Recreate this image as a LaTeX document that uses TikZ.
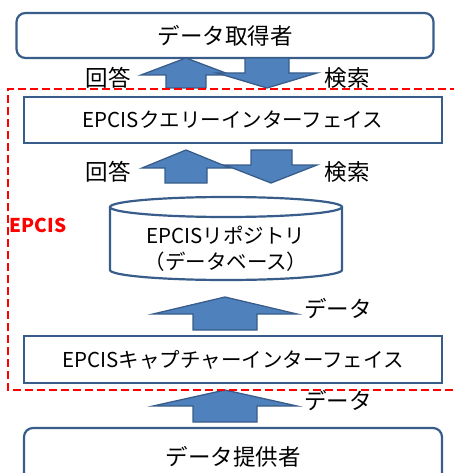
\documentclass[tikz,border=0pt]{standalone}
\usepackage{fontspec}
\setmainfont{Noto Sans CJK JP}
\usetikzlibrary{math}

\definecolor{boxline}{HTML}{385D8A}
\definecolor{arrowfill}{HTML}{4F81BD}
\definecolor{epcisred}{HTML}{FF0000}

\begin{document}
\begin{tikzpicture}[x=1pt, y=-1pt,
    box/.style={draw=boxline, line width=2.2pt, fill=white, minimum width=418pt,
        font=\fontsize{20.5}{26}\selectfont, inner sep=0pt},
    actor/.style={box, rounded corners=9pt, font=\fontsize{22.5}{28}\selectfont},
    blockarrow/.style={fill=arrowfill, draw=boxline, line width=1.3pt, line join=miter},
    label/.style={font=\fontsize{22.5}{28}\selectfont, inner sep=0pt}]

\useasboundingbox (0,0) rectangle (453,473);

% Position settings
\tikzmath{
    \UpX = 186;
    \DataX = 225;
}

% Draws actors and interfaces
\node [actor, minimum width=417pt, minimum height=45pt] (getter) at (225,35.5) {データ取得者};
\node [box, minimum height=46pt] (query) at (233,120) {EPCISクエリーインターフェイス};
\node [box, minimum height=47pt] (capture) at (233,359.5) {EPCISキャプチャーインターフェイス};
\node [actor, minimum height=58pt] (provider) at (233,457) {データ提供者};

% Draws repository
\draw [boxline, line width=2.2pt, fill=white]
    (110,207) -- (110,270) arc [start angle=180, end angle=0, x radius=116, y radius=10]
    -- (342,207);
\draw [boxline, line width=2.2pt] (226,207) ellipse [x radius=116, y radius=10];
\node [label, font=\fontsize{20.5}{26}\selectfont, align=center]
    (repo) at (226,248.5) {EPCISリポジトリ\\（データベース）};

% Draws arrows between getter and query interface
\draw [blockarrow] (\UpX,58) -- (\UpX+45,75) -- (\UpX+20,75) -- (\UpX+20,88)
    -- (\UpX-20,88) -- (\UpX-20,75) -- (\UpX-45,75) -- cycle;
\draw [blockarrow] (267,88) -- (317,73) -- (289,73) -- (289,58)
    -- (245,58) -- (245,73) -- (217,73) -- cycle;

% Draws arrows between query interface and repository
\draw [blockarrow] (\UpX,150) -- (\UpX+44,168) -- (\UpX+21,168) -- (\UpX+21,183)
    -- (\UpX-21,183) -- (\UpX-21,168) -- (\UpX-44,168) -- cycle;
\draw [blockarrow] (271,183) -- (317,165) -- (292,165) -- (292,150)
    -- (251,150) -- (251,165) -- (225,165) -- cycle;

% Draws data arrows
\draw [blockarrow] (\DataX,297) -- (\DataX+72,314) -- (\DataX+32,314) -- (\DataX+32,330)
    -- (\DataX-32,330) -- (\DataX-32,314) -- (\DataX-72,314) -- cycle;
\draw [blockarrow] (\DataX,390) -- (\DataX+72,406) -- (\DataX+32,406) -- (\DataX+32,422)
    -- (\DataX-32,422) -- (\DataX-32,406) -- (\DataX-72,406) -- cycle;

% Write out labels
\node [label] (answer1) at (108,78) {回答};
\node [label] (search1) at (347,78) {検索};
\node [label] (answer2) at (108,172) {回答};
\node [label] (search2) at (347,172) {検索};
\node [label] (data1) at (338,309) {データ};
\node [label] (data2) at (338,401) {データ};

% Draws EPCIS boundary
\draw [epcisred, line width=2.6pt, dash pattern=on 8pt off 4pt]
    (470,89) -- (8,89) -- (8,390) -- (470,390);
\node [label, text=epcisred, font=\fontsize{19}{24}\selectfont\bfseries]
    (epcis) at (38,225) {EPCIS};

\end{tikzpicture}
\end{document}
